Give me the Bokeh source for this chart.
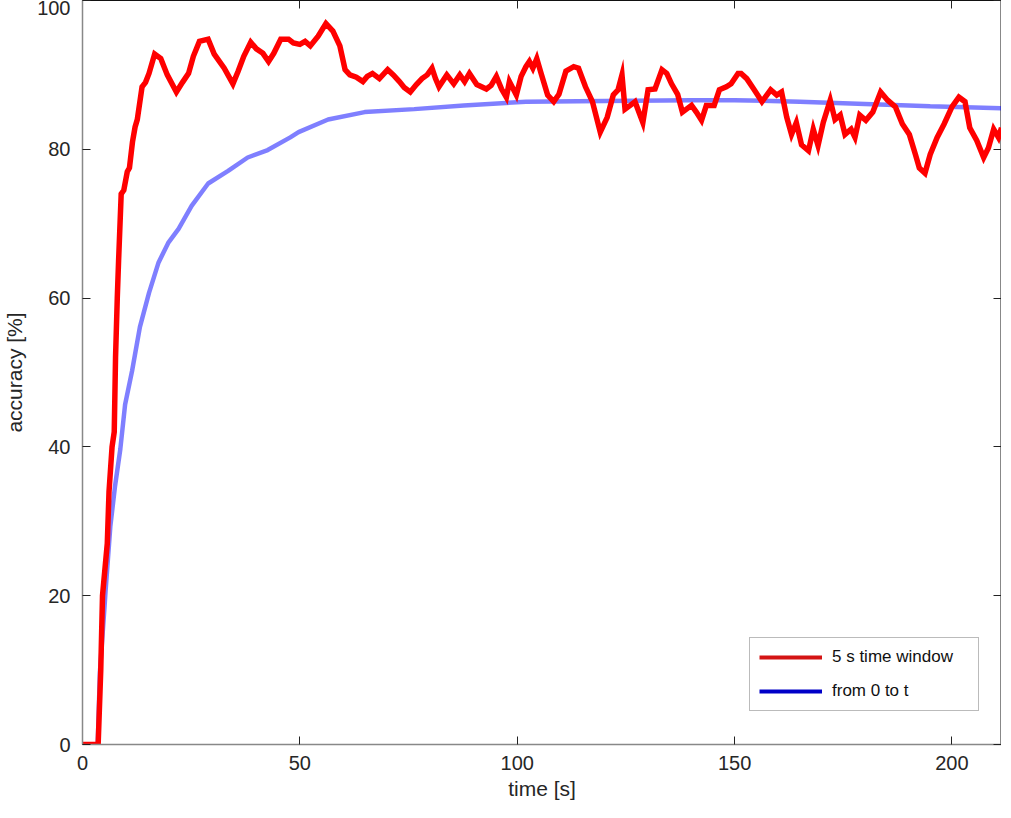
from bokeh.plotting import figure
from bokeh.models import Range1d, LinearAxis, FixedTicker, Legend, LegendItem
from bokeh.embed import file_html
from bokeh.resources import INLINE

# 5 s time window accuracy (red)
red_t = [0, 3.6, 4.2, 4.6, 5.7, 6.1, 6.8, 7.3, 7.6, 8.0, 8.3, 8.9, 9.5, 10.3, 10.8, 11.5,
         12.1, 12.6, 13.7, 14.5, 15.3, 16.6, 18, 19.5, 21.6, 23, 24.4, 25.5, 26.9, 28.9,
         30.3, 32.6, 34.6, 35.8, 37.1, 38.7, 40, 41.5, 42.8, 44, 45.6, 47.4, 48.5, 50,
         51.2, 52.4, 54.2, 56, 57.6, 59.2, 60.4, 61.5, 63, 64.5, 65.5, 66.7, 68.3, 70.2,
         71.5, 72.9, 74, 75.4, 76.8, 78.1, 79.3, 80.4, 81.2, 82, 83.8, 85.4, 86.8, 87.9,
         89, 90.7, 92.9, 94, 95.2, 96.4, 97.5, 98.2, 99.8, 100.9, 102, 102.8, 103.6, 104.5,
         105.5, 107, 108.4, 109.6, 111.2, 113, 114.1, 115.7, 117.3, 119.1, 120.7, 122.1,
         123.2, 124.1, 124.8, 126, 127.1, 128.9, 130.1, 131.7, 133.3, 134.4, 135.5, 136.9,
         138, 140.1, 141.2, 142.4, 143.5, 145.3, 146.5, 148.1, 149.2, 150.8, 151.5, 152.8,
         154.4, 156.3, 158.3, 159.7, 160.8, 162, 163.1, 164.2, 165.4, 167, 168.1, 169.2,
         170.4, 172, 173.1, 174.3, 175.4, 176.8, 177.7, 178.8, 180.2, 181.8, 183.6, 185.2,
         187, 188.6, 190.2, 191.6, 192.5, 193.8, 195, 196.6, 198.2, 200, 201.6, 203, 204.1,
         205.7, 207.3, 208.4, 209.6, 210.7, 211.4]
red_acc = [0, 0, 10, 20, 27, 34, 40, 42, 52, 60, 65, 74, 74.5, 77, 77.5, 81,
           83, 84, 88.4, 89, 90.2, 92.8, 92.2, 90, 87.7, 89, 90.2, 92.5, 94.5, 94.8,
           92.8, 90.9, 88.8, 90.5, 92.5, 94.4, 93.5, 92.9, 91.8, 92.9, 94.8, 94.8, 94.3, 94.1,
           94.5, 93.9, 95.2, 96.9, 95.9, 93.9, 90.7, 90, 89.7, 89.1, 89.8, 90.2, 89.5, 90.7,
           90, 89.1, 88.3, 87.7, 88.7, 89.5, 90, 90.9, 89.5, 88.4, 90, 88.8, 90, 89.1,
           90.2, 88.7, 88.1, 88.6, 89.8, 88.1, 87, 89.1, 87.3, 89.8, 91.1, 91.8, 90.9, 92.2,
           90.2, 87.3, 86.4, 87.4, 90.5, 91.1, 90.9, 88.4, 86.4, 82.3, 84.3, 87.3,
           88, 90, 85.4, 85.9, 86.4, 83.6, 88, 88.1, 90.7, 90.2, 88.8, 87.4,
           85, 85.9, 85, 83.9, 85.9, 85.9, 88, 88.4, 88.8, 90.2, 90.2, 89.5,
           88.1, 86.4, 88, 87.3, 87.7, 84.3, 82, 83.6, 80.6, 79.8, 82.7, 80.5,
           83.6, 86.6, 84, 84.6, 82, 82.7, 81.6, 84.6, 83.9, 85, 87.7, 86.6,
           85.7, 83.4, 82, 79.3, 77.5, 76.8, 79.3, 81.6, 83.4, 85.7, 87, 86.4, 82.9,
           81.2, 78.9, 80.2, 82.7, 81.6, 82.9]

# from 0 to t accuracy (blue)
blue_t = [0, 3.5, 4.0, 5.1, 5.3, 6.4, 7.5, 8.7, 9.8, 11.4, 13.2, 15.3, 17.5, 19.8, 22.1,
          25.1, 28.9, 33.5, 38, 42.6, 47.8, 49.7, 56.5, 64.9, 76.3, 87.7, 102, 120, 140,
          150, 165, 180, 195, 211.4]
blue_acc = [0, 0, 9.7, 18.8, 20.6, 29.3, 34.8, 39.7, 45.7, 50.2, 56.1, 60.7, 64.8, 67.5, 69.3,
            72.4, 75.4, 77.1, 78.9, 79.9, 81.6, 82.3, 84, 85, 85.4, 85.9, 86.4, 86.5, 86.6,
            86.6, 86.4, 86.1, 85.8, 85.5]

x_ticks = [0, 50, 100, 150, 200]
y_ticks = [0, 20, 40, 60, 80, 100]
legend_labels = ["5 s time window", "from 0 to t"]

FONT = "Liberation Sans"
TXT = "#262626"

p = figure(width=1001, height=802, output_backend="svg", toolbar_location=None,
           x_range=Range1d(0, 211.4), y_range=Range1d(0, 100),
           min_border_left=0, min_border_right=0, min_border_top=0, min_border_bottom=0)
p.grid.visible = False
p.outline_line_color = "#888888"
p.background_fill_color = "white"
p.border_fill_color = "white"

for ax in (p.xaxis[0], p.yaxis[0]):
    ax.major_tick_in = 8
    ax.major_tick_out = 0
    ax.minor_tick_line_color = None
    ax.major_tick_line_color = "#222222"
    ax.axis_line_color = "#888888"
    ax.axis_line_width = 1.5
    ax.major_label_text_font = FONT
    ax.major_label_text_font_size = "20px"
    ax.major_label_text_color = TXT
    ax.axis_label_text_font = FONT
    ax.axis_label_text_font_size = "21px"
    ax.axis_label_text_font_style = "normal"
    ax.axis_label_text_color = TXT

p.xaxis[0].ticker = FixedTicker(ticks=x_ticks)
p.yaxis[0].ticker = FixedTicker(ticks=y_ticks)
p.xaxis[0].axis_label = "time [s]"
p.yaxis[0].axis_label = "accuracy [%]"
p.xaxis[0].major_label_standoff = 11
p.yaxis[0].major_label_standoff = 12
p.xaxis[0].axis_label_standoff = 4
p.yaxis[0].axis_label_standoff = 8

top = LinearAxis(ticker=FixedTicker(ticks=x_ticks), major_label_text_font_size="0px",
                 major_tick_in=8, major_tick_out=0, minor_tick_line_color=None,
                 axis_line_color="#111111", major_tick_line_color="#222222",
                 major_label_standoff=7)
right = LinearAxis(ticker=FixedTicker(ticks=y_ticks), major_label_text_font_size="0px",
                   major_tick_in=8, major_tick_out=0, minor_tick_line_color=None,
                   axis_line_color="#999999", major_tick_line_color="#222222",
                   major_label_standoff=0)
p.add_layout(top, "above")
p.add_layout(right, "right")

p.line(blue_t, blue_acc, line_color="#0000ff", line_alpha=0.5, line_width=4.5)
p.line(red_t, red_acc, line_color="#ff0000", line_width=5.5, line_join="miter")

# legend-only renderers (single point: nothing drawn in the plot)
r1 = p.line(red_t[:1], red_acc[:1], line_color="#d41414", line_width=4)
r2 = p.line(blue_t[:1], blue_acc[:1], line_color="#0000c8", line_width=4)
leg = Legend(items=[LegendItem(label=legend_labels[0], renderers=[r1]),
                    LegendItem(label=legend_labels[1], renderers=[r2])],
             location=(667, 33), glyph_width=63, glyph_height=20, label_height=20,
             label_width=137, label_standoff=10, padding=9, spacing=14, margin=0,
             label_text_font=FONT, label_text_font_size="17px", label_text_color="#111111",
             border_line_color="#777777", border_line_width=1,
             background_fill_color="white", background_fill_alpha=1)
p.add_layout(leg, "center")

open("out.html", "w").write(file_html(p, INLINE))
